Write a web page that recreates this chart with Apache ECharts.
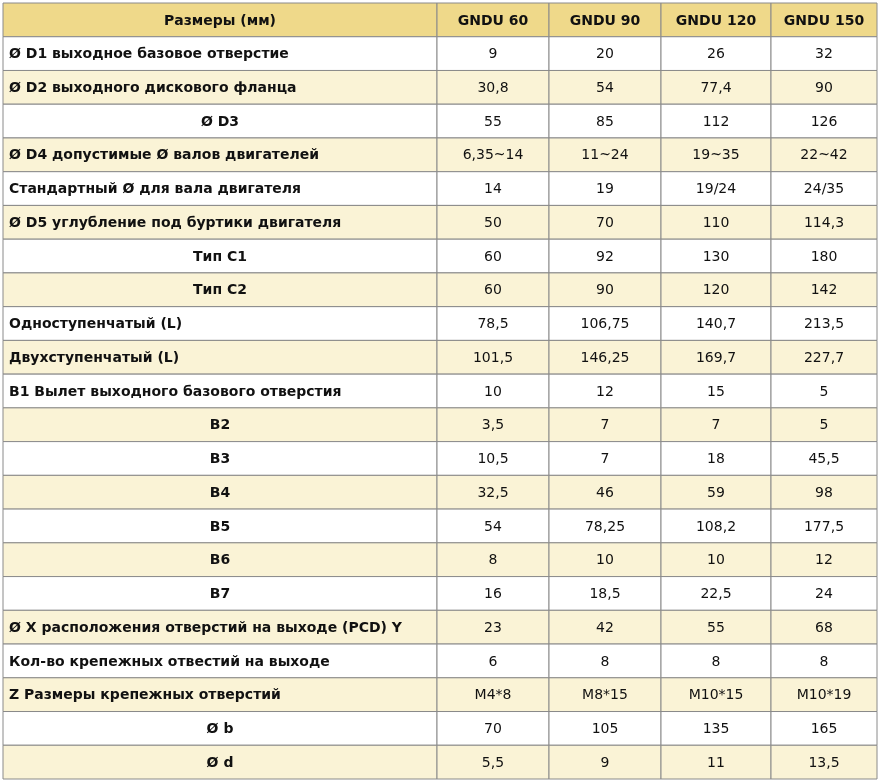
<!DOCTYPE html>
<html>
<head>
<meta charset="utf-8">
<script src="https://cdn.jsdelivr.net/npm/echarts@6/dist/echarts.min.js"></script>
<style>html,body{margin:0;padding:0;background:#fff}#main{width:880px;height:782px}</style>
</head>
<body>
<div id="main"></div>
<script>
var headers = ['Размеры (мм)', 'GNDU 60', 'GNDU 90', 'GNDU 120', 'GNDU 150'];
var rowLabels = [
    'Ø D1 выходное базовое отверстие',
    'Ø D2 выходного дискового фланца',
    'Ø D3',
    'Ø D4 допустимые Ø валов двигателей',
    'Стандартный Ø для вала двигателя',
    'Ø D5 углубление под буртики двигателя',
    'Тип C1',
    'Тип C2',
    'Одноступенчатый (L)',
    'Двухступенчатый (L)',
    'B1 Вылет выходного базового отверстия',
    'B2', 'B3', 'B4', 'B5', 'B6', 'B7',
    'Ø X расположения отверстий на выходе (PCD) Y',
    'Кол-во крепежных отвестий на выходе',
    'Z Размеры крепежных отверстий',
    'Ø b',
    'Ø d'
];
var centeredLabels = ['Ø D3', 'Тип C1', 'Тип C2', 'B2', 'B3', 'B4', 'B5', 'B6', 'B7', 'Ø b', 'Ø d'];
var gndu60  = ['9', '30,8', '55', '6,35~14', '14', '50', '60', '60', '78,5', '101,5', '10', '3,5', '10,5', '32,5', '54', '8', '16', '23', '6', 'M4*8', '70', '5,5'];
var gndu90  = ['20', '54', '85', '11~24', '19', '70', '92', '90', '106,75', '146,25', '12', '7', '7', '46', '78,25', '10', '18,5', '42', '8', 'M8*15', '105', '9'];
var gndu120 = ['26', '77,4', '112', '19~35', '19/24', '110', '130', '120', '140,7', '169,7', '15', '7', '18', '59', '108,2', '10', '22,5', '55', '8', 'M10*15', '135', '11'];
var gndu150 = ['32', '90', '126', '22~42', '24/35', '114,3', '180', '142', '213,5', '227,7', '5', '5', '45,5', '98', '177,5', '12', '24', '68', '8', 'M10*19', '165', '13,5'];

// column edges in table units (px width of columns)
var colEdges = [0, 434, 546, 658, 768, 874];

var rows = ['header'].concat(rowLabels);
var data = [];
headers.forEach(function (h, c) { data.push([c, 0, h]); });
var cols = [rowLabels, gndu60, gndu90, gndu120, gndu150];
for (var r = 0; r < rowLabels.length; r++) {
    for (var c = 0; c < cols.length; c++) {
        data.push([c, r + 1, cols[c][r]]);
    }
}

function renderCell(params, api) {
    var c = api.value(0), r = api.value(1), txt = data[params.dataIndex][2];
    var p0 = api.coord([colEdges[c], r]);
    var p1 = api.coord([colEdges[c + 1], r]);
    var h = api.size([0, 1])[1];
    var x = p0[0], w = p1[0] - p0[0], y = p0[1] - h / 2;
    var fill = r === 0 ? '#efd98a' : (r % 2 === 0 ? '#faf3d6' : '#ffffff');
    var left = c === 0 && r > 0 && centeredLabels.indexOf(txt) < 0;
    var bold = r === 0 || c === 0;
    return {
        type: 'group',
        children: [{
            type: 'rect',
            shape: { x: x, y: y, width: w, height: h },
            style: { fill: fill, stroke: '#8a8a8a', lineWidth: 1 }
        }, {
            type: 'text',
            style: {
                x: left ? x + 6 : x + w / 2,
                y: y + h / 2 + 1,
                text: txt,
                align: left ? 'left' : 'center',
                verticalAlign: 'middle',
                fill: '#111',
                font: (bold ? 'bold ' : '') + '14px "DejaVu Sans", Verdana, sans-serif'
            }
        }]
    };
}

var myChart = echarts.init(document.getElementById('main'));
var option = {
    animation: false,
    backgroundColor: '#fff',
    grid: { left: 3, right: 3, top: 3, bottom: 3 },
    xAxis: { type: 'value', min: 0, max: 874, show: false },
    yAxis: { type: 'category', data: rows, inverse: true, show: false },
    series: [{
        type: 'custom',
        renderItem: renderCell,
        data: data.map(function (d) { return [d[0], d[1]]; })
    }]
};
myChart.setOption(option);
</script>
</body>
</html>
